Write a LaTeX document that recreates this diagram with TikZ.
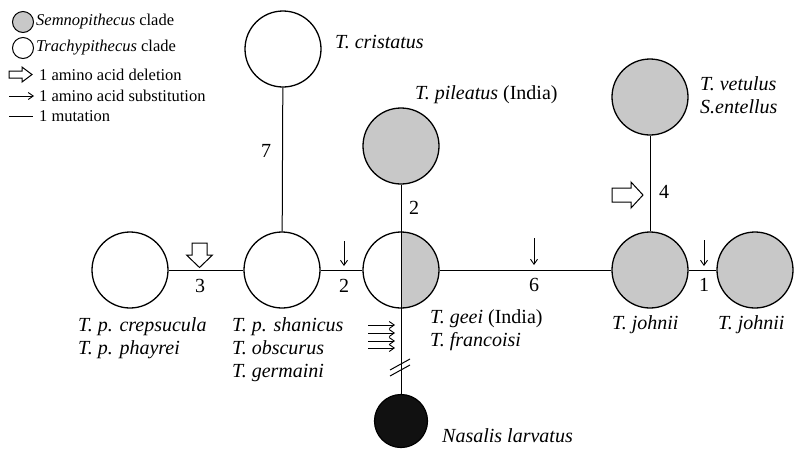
\documentclass[tikz,border=0pt]{standalone}
\usepackage{fontspec}
\setmainfont{Liberation Serif}
\usetikzlibrary{arrows.meta}
\definecolor{semgray}{RGB}{200,200,200}
\definecolor{nasblack}{RGB}{17,17,17}
\begin{document}
\begin{tikzpicture}[x=1pt,y=-1pt,
  hap/.style={circle,draw,line width=1.3pt,minimum size=76pt,inner sep=0pt,fill=white},
  semhap/.style={hap,fill=semgray},
  link/.style={line width=1pt},
  sub/.style={-{Straight Barb[length=5pt,width=7pt]},line width=0.9pt},
  del/.style={draw,line width=1pt,fill=white,line join=miter},
  lab/.style={font=\fontsize{20}{23}\selectfont\itshape,inner sep=0pt,align=left},
  num/.style={font=\fontsize{20}{23}\selectfont,inner sep=0pt},
  leg/.style={font=\fontsize{16.5}{19}\selectfont,inner sep=0pt,anchor=west}]
\useasboundingbox (0,0) rectangle (795,448);
% legend
\node[circle,draw,line width=1pt,fill=semgray,minimum size=21pt,inner sep=0pt] (lg1) at (23,22) {};
\node[leg] (lt1) at (36,22) {\textit{Semnopithecus} clade};
\node[circle,draw,line width=1pt,fill=white,minimum size=21pt,inner sep=0pt] (lg2) at (23,48) {};
\node[leg] (lt2) at (36,48) {\textit{Trachypithecus} clade};
\draw[del] (9,71) -- (22,71) -- (22,67) -- (32,74.5) -- (22,82) -- (22,78) -- (9,78) -- cycle;
\node[leg] (lt3) at (39,74.5) {1 amino acid deletion};
\coordinate (la1) at (9,96);
\coordinate (la2) at (34,96);
\draw[sub] (la1) -- (la2);
\node[leg] (lt4) at (39,96) {1 amino acid substitution};
\coordinate (lm1) at (9,116);
\coordinate (lm2) at (33,116);
\draw[link] (lm1) -- (lm2);
\node[leg] (lt5) at (39,116) {1 mutation};
% nodes
\node[hap] (crep) at (130,270) {};
\node[hap] (shan) at (282,270) {};
\node[hap,path picture={\fill[semgray] (path picture bounding box.north) rectangle (path picture bounding box.south east);}] (mid) at (401,270) {};
\node[semhap] (john) at (650,270) {};
\node[semhap] (john2) at (755,270) {};
\node[hap] (crist) at (283,49) {};
\node[semhap] (pil) at (401,146) {};
\node[semhap] (vet) at (650,97) {};
\node[circle,draw,line width=1.2pt,fill=nasblack,minimum size=53pt,inner sep=0pt] (nas) at (401,421) {};
% connectors
\draw[link] (crep) -- (shan);
\draw[link] (shan) -- (mid);
\draw[link] (mid) -- (john);
\draw[link] (john) -- (john2);
\draw[link] (crist) -- (shan);
\draw[link] (vet) -- (john);
\draw[link] (pil.south) -- (nas.north);
% break marks
\coordinate (b1a) at (390,370);
\coordinate (b1b) at (410,359);
\coordinate (b2a) at (390,376);
\coordinate (b2b) at (410,365);
\draw[line width=1pt] (b1a) -- (b1b);
\draw[line width=1pt] (b2a) -- (b2b);
% mutation labels
\node[num] (n7) at (266,151) {7};
\node[num] (n2a) at (414,208) {2};
\node[num] (n4) at (664,192) {4};
\node[num] (n3) at (200,286) {3};
\node[num] (n2b) at (344,286) {2};
\node[num] (n6) at (534,285) {6};
\node[num] (n1) at (704,285) {1};
% substitutions
\coordinate (s1a) at (344,241); \coordinate (s1b) at (344,266);
\draw[sub] (s1a) -- (s1b);
\coordinate (s2a) at (534,238); \coordinate (s2b) at (534,265);
\draw[sub] (s2a) -- (s2b);
\coordinate (s3a) at (704,240); \coordinate (s3b) at (704,266);
\draw[sub] (s3a) -- (s3b);
\foreach \yy [count=\i] in {325,333,341,348} {
  \coordinate (m\i a) at (368,\yy); \coordinate (m\i b) at (395,\yy);
  \draw[sub] (m\i a) -- (m\i b);
}
% deletions
\draw[del] (192,243) -- (207,243) -- (207,255) -- (212.5,255) -- (199.5,267.5) -- (186.5,255) -- (192,255) -- cycle;
\draw[del] (612,188) -- (631,188) -- (631,182) -- (643,195) -- (631,208) -- (631,202) -- (612,202) -- cycle;
% species labels
\node[lab,anchor=west] (tcri) at (335,42) {T. cristatus};
\node[lab,anchor=west] (tpil) at (415,95) {T. pileatus \upshape(India)};
\node[lab,anchor=north west] (tvet) at (700,76) {T. vetulus\\S.entellus};
\node[lab,anchor=north west] (tcre) at (78,317) {T. p. crepsucula\\T. p. phayrei};
\node[lab,anchor=north west] (tsha) at (232,317) {T. p. shanicus\\T. obscurus\\T. germaini};
\node[lab,anchor=north west] (tgee) at (430,309) {T. geei \upshape(India)\\T. francoisi};
\node[lab,anchor=west] (tjo1) at (612,325) {T. johnii};
\node[lab,anchor=west] (tjo2) at (718,325) {T. johnii};
\node[lab,anchor=west] (tnas) at (442,436) {Nasalis larvatus};
\end{tikzpicture}
\end{document}
